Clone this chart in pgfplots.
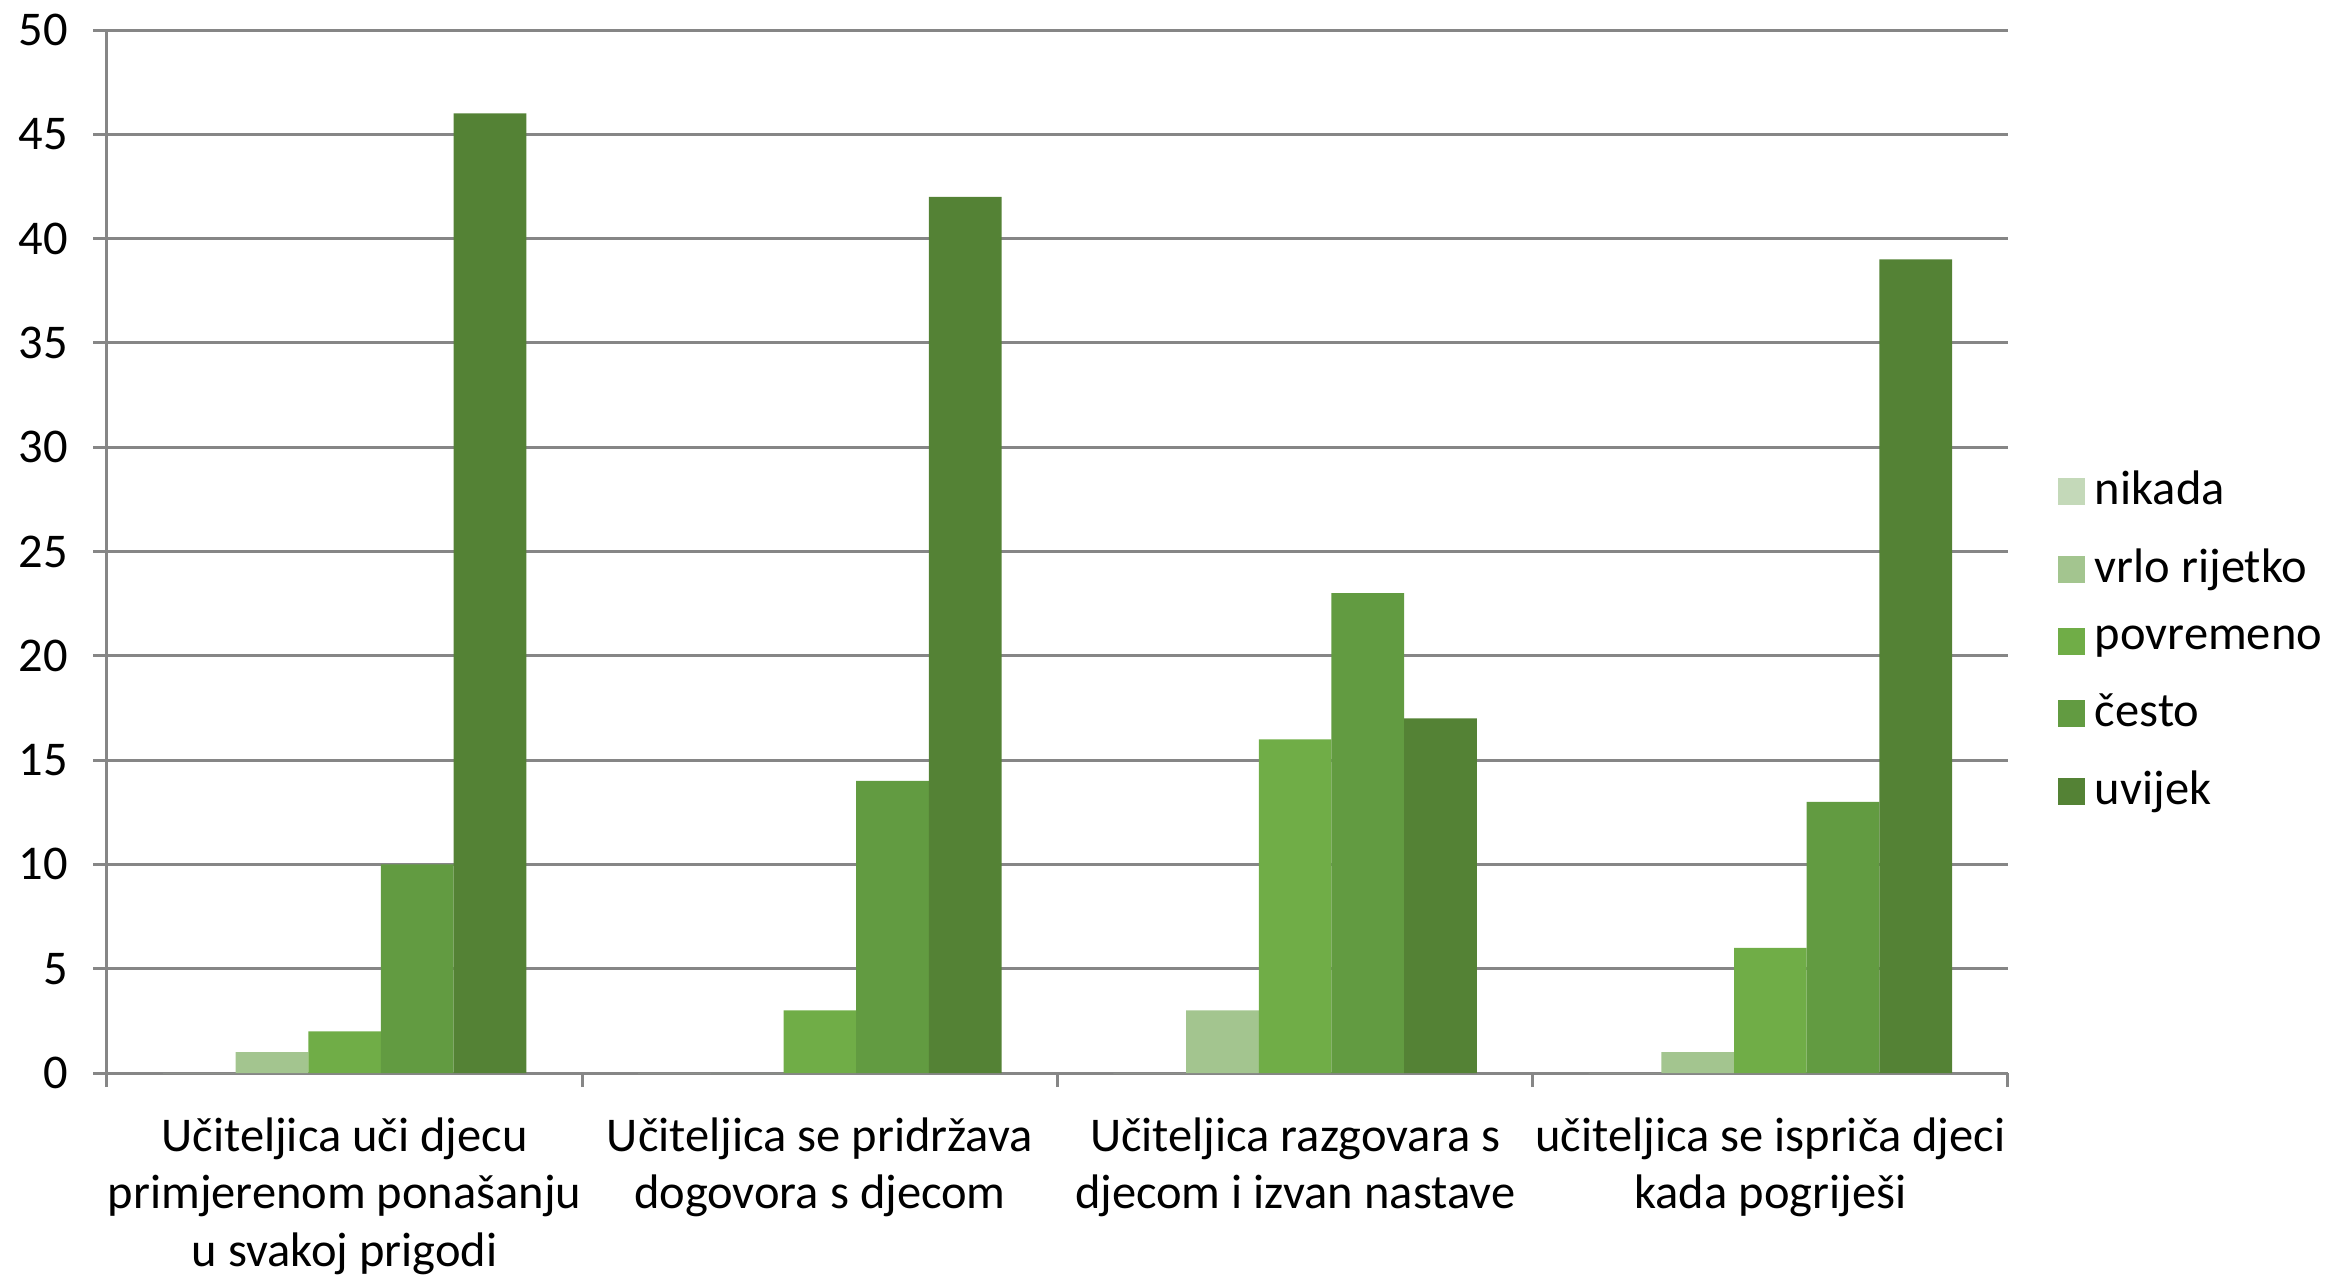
\documentclass[border=0pt]{standalone}
\usepackage{fontspec}
\setmainfont{Carlito}
\usepackage{pgfplots}
\pgfplotsset{compat=1.18}

\definecolor{cNikada}{HTML}{C4D9B9}
\definecolor{cRijetko}{HTML}{A3C58F}
\definecolor{cPovremeno}{HTML}{70AD47}
\definecolor{cCesto}{HTML}{629B41}
\definecolor{cUvijek}{HTML}{548235}
\definecolor{axgray}{HTML}{868686}

\begin{document}
\begin{tikzpicture}
\useasboundingbox (-21.4pt,-40.8pt) rectangle (444.8pt,214.6pt);
\begin{axis}[
    scale only axis,
    width=380.2pt, height=208.6pt,
    at={(0,0)}, anchor=south west,
    ybar, bar width=0.153,
    xmin=-0.5, xmax=3.5,
    ymin=0, ymax=50,
    ytick={0,5,...,50},
    minor ytick={0,5,...,50},
    xtick={0,1,2,3},
    minor xtick={-0.5,0.5,1.5,2.5,3.5},
    xticklabels={
        {Učiteljica uči djecu\\primjerenom ponašanju\\u svakoj prigodi},
        {Učiteljica se pridržava\\dogovora s djecom},
        {Učiteljica razgovara s\\djecom i izvan nastave},
        {učiteljica se ispriča djeci\\kada pogriješi}},
    major tick style={draw=none},
    minor tick style={draw=axgray, line width=0.6pt},
    minor tick length=2.8pt,
    tick align=outside,
    axis lines*=left,
    axis line style={draw=axgray, line width=0.6pt},
    ymajorgrids,
    major grid style={draw=axgray, line width=0.6pt},
    /pgf/number format/assume math mode=true,
    font=\fontsize{9.7}{11.45}\selectfont,
    yticklabel style={font=\fontsize{9.7}{11.45}\selectfont},
    xticklabel style={font=\fontsize{9.7}{11.45}\selectfont, align=center, anchor=north, yshift=-1.2pt},
    legend style={draw=none, fill=none, at={(1,0.414)}, anchor=west, xshift=6.8pt,
        font=\fontsize{9.7}{11.45}\selectfont, row sep=3.3pt},
    legend cell align=left,
    legend image code/.code={\fill[#1] (0pt,-2.7pt) rectangle (5.4pt,2.7pt);},
]
\addplot[fill=cNikada, draw=none, bar shift=-0.306] coordinates {(0,0) (1,0) (2,0) (3,0)};
\addlegendentry{nikada}
\addplot[fill=cRijetko, draw=none, bar shift=-0.153] coordinates {(0,1) (1,0) (2,3) (3,1)};
\addlegendentry{vrlo rijetko}
\addplot[fill=cPovremeno, draw=none, bar shift=0] coordinates {(0,2) (1,3) (2,16) (3,6)};
\addlegendentry{povremeno}
\addplot[fill=cCesto, draw=none, bar shift=0.153] coordinates {(0,10) (1,14) (2,23) (3,13)};
\addlegendentry{često}
\addplot[fill=cUvijek, draw=none, bar shift=0.306] coordinates {(0,46) (1,42) (2,17) (3,39)};
\addlegendentry{uvijek}
\end{axis}
\end{tikzpicture}
\end{document}
